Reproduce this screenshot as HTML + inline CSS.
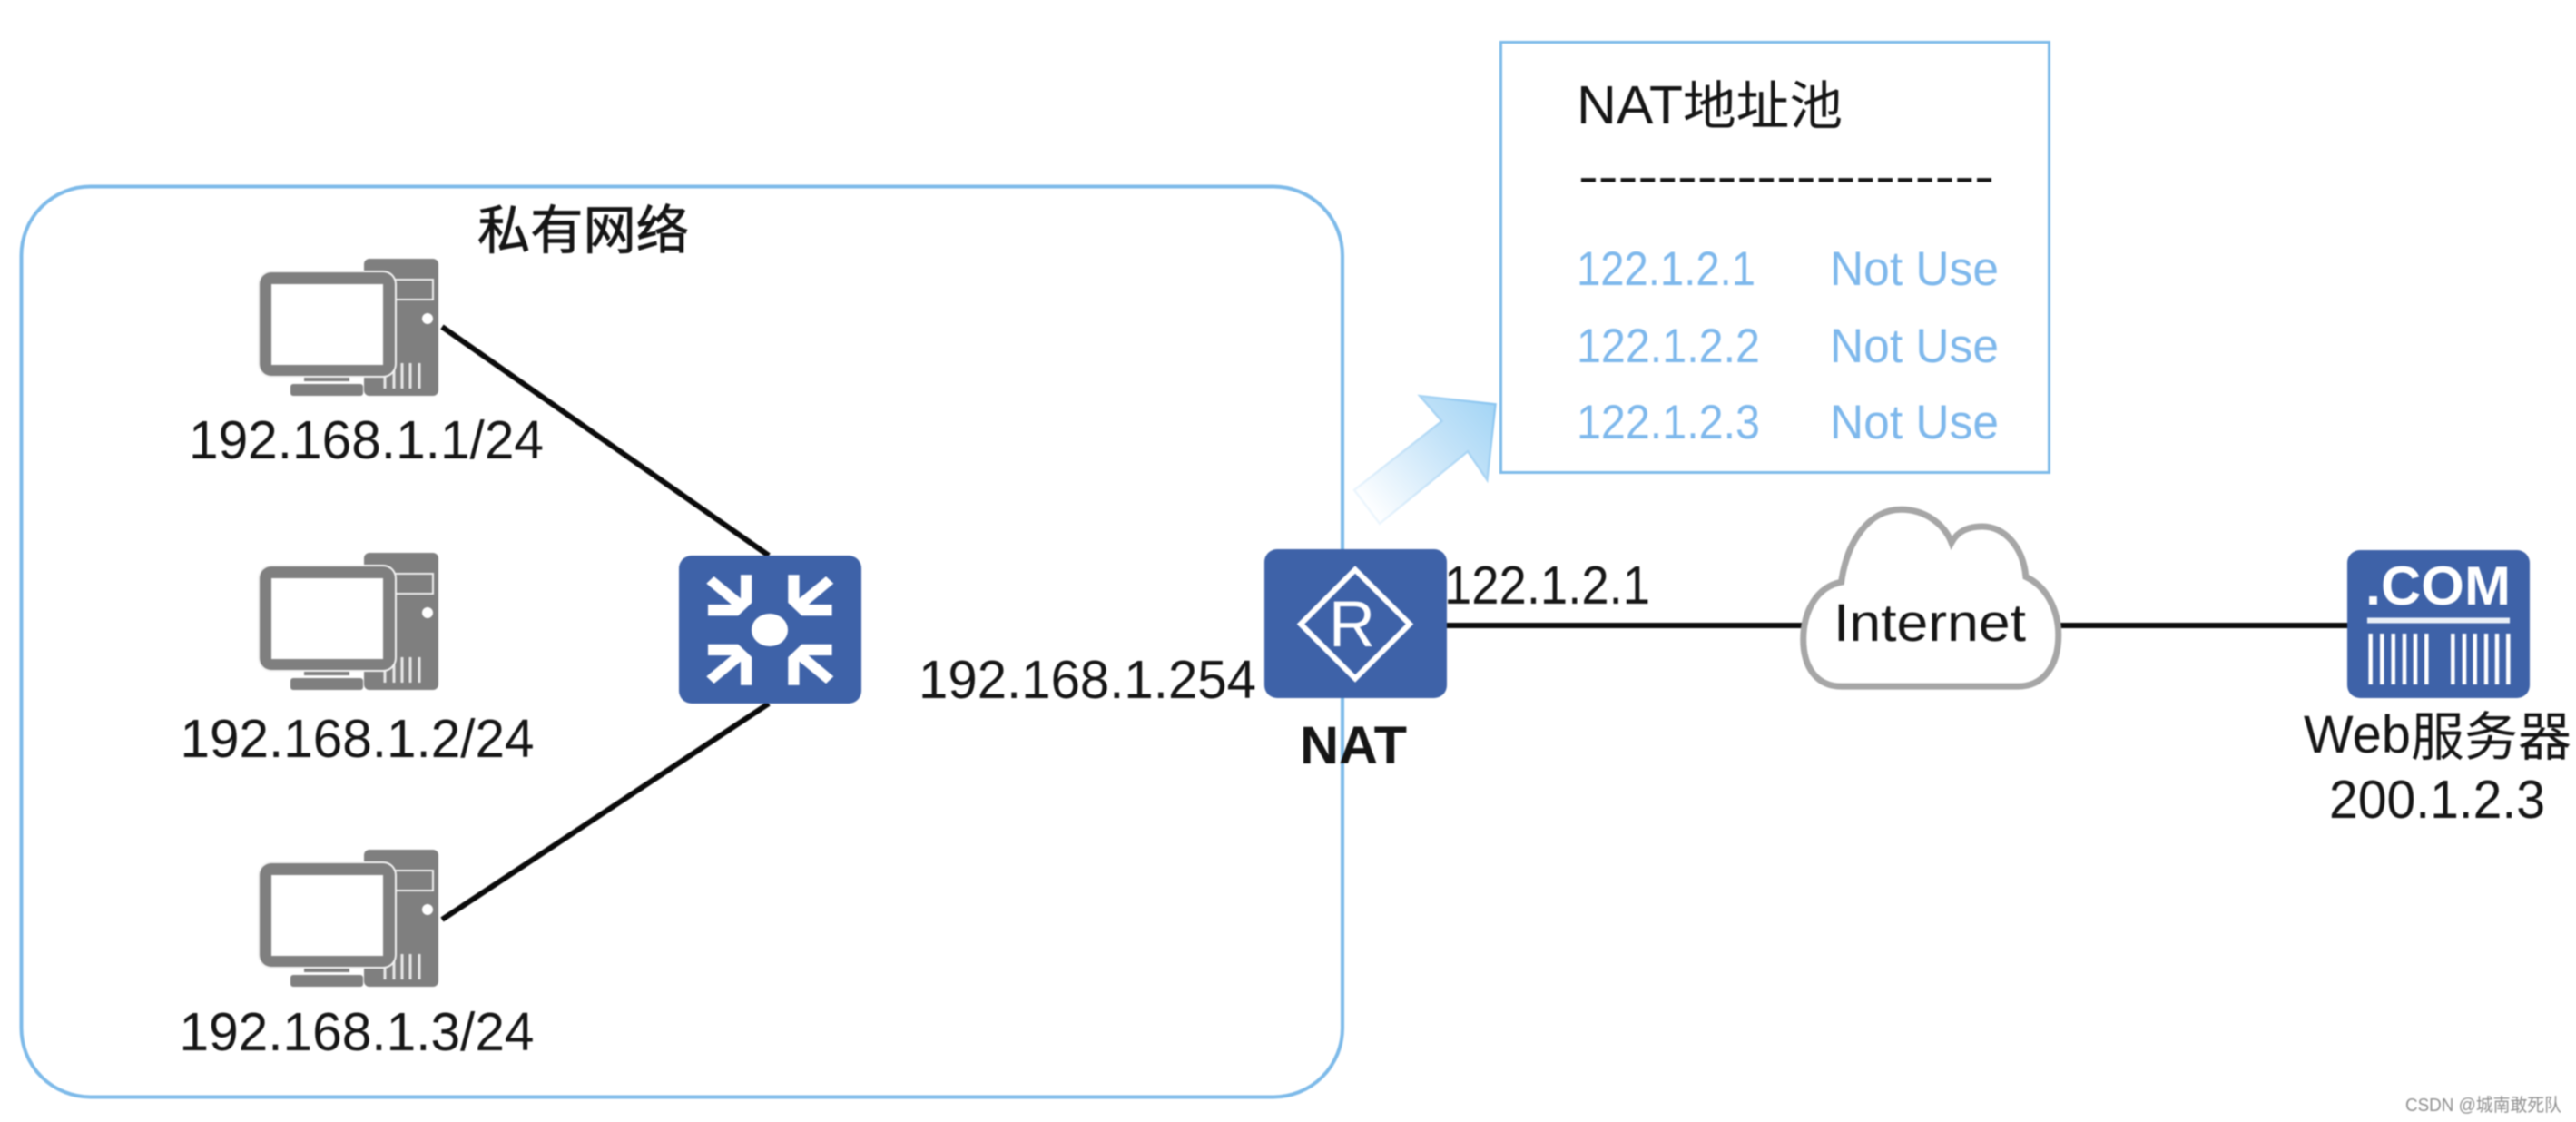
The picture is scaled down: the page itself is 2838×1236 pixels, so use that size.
<!DOCTYPE html>
<html lang="zh">
<head>
<meta charset="utf-8">
<title>NAT</title>
<style>
html,body{margin:0;padding:0;background:#fff;width:2838px;height:1236px;overflow:hidden}
svg{display:block;filter:blur(.7px)}
text{font-family:"Liberation Sans","Noto Sans CJK SC",sans-serif;fill:#151515}
.b{fill:#7EB8EC}
</style>
</head>
<body>
<svg width="2838" height="1236" viewBox="0 0 2838 1236" xmlns="http://www.w3.org/2000/svg">
<defs>
<linearGradient id="ag" gradientUnits="userSpaceOnUse" x1="1505" y1="560" x2="1640" y2="445">
<stop offset="0" stop-color="#fff"/>
<stop offset=".65" stop-color="#c2e2f8"/>
<stop offset="1" stop-color="#a6d6f5"/>
</linearGradient>
<linearGradient id="as" gradientUnits="userSpaceOnUse" x1="1505" y1="560" x2="1640" y2="445">
<stop offset="0" stop-color="#edf6fd"/>
<stop offset="1" stop-color="#8cc6f0"/>
</linearGradient>
<g id="pc">
<rect x="401" y="285" width="82" height="151" rx="6" fill="#7F7F7F"/>
<rect x="432" y="308" width="45" height="22" fill="#7F7F7F" stroke="#efefef" stroke-width="2"/>
<circle cx="471" cy="351" r="6" fill="#fff"/>
<g stroke="#e8e8e8" stroke-width="3">
<line x1="424" y1="412" x2="424" y2="428"/>
<line x1="434" y1="404" x2="434" y2="428"/>
<line x1="443" y1="400" x2="443" y2="428"/>
<line x1="452" y1="400" x2="452" y2="428"/>
<line x1="462" y1="400" x2="462" y2="428"/>
</g>
<rect x="335" y="412" width="50" height="8" fill="#7F7F7F"/>
<rect x="320" y="423" width="80" height="13" rx="3" fill="#7F7F7F"/>
<rect x="284" y="298" width="153" height="118" rx="15" fill="#f4f4f4"/>
<rect x="286" y="300" width="149" height="114" rx="13" fill="#7F7F7F"/>
<rect x="299" y="313" width="123" height="89" fill="#fff"/>
</g>
<polygon id="sa" fill="#fff" points="-32.3,-60.7 -20,-60.7 -20,-30 -35,-15.7 -68.3,-15.7 -68.3,-28 -42.3,-28 -70,-51.3 -61.7,-59 -32.3,-34.7"/>
</defs>

<rect width="2838" height="1236" fill="#fff"/>

<!-- private network -->
<rect x="23.5" y="205.5" width="1455.5" height="1003" rx="76" ry="76" fill="none" stroke="#7DBAE9" stroke-width="4"/>
<text x="526" y="274" font-size="58" textLength="233" lengthAdjust="spacingAndGlyphs" stroke="#151515" stroke-width=".8">私有网络</text>

<!-- connectors -->
<g stroke="#0a0a0a" stroke-width="6" fill="none">
<line x1="487" y1="360" x2="847" y2="612"/>
<line x1="487" y1="1013" x2="847" y2="775"/>
<line x1="1594" y1="689" x2="1985" y2="689"/>
<line x1="2269" y1="689" x2="2587" y2="689"/>
</g>

<!-- PCs -->
<use href="#pc"/>
<use href="#pc" y="324"/>
<use href="#pc" y="651"/>
<text x="208" y="505" font-size="59" textLength="391" lengthAdjust="spacingAndGlyphs">192.168.1.1/24</text>
<text x="198.5" y="834" font-size="59" textLength="390" lengthAdjust="spacingAndGlyphs">192.168.1.2/24</text>
<text x="197.5" y="1157" font-size="59" textLength="391" lengthAdjust="spacingAndGlyphs">192.168.1.3/24</text>

<!-- switch -->
<rect x="748" y="612" width="201" height="163" rx="14" fill="#3E62A8"/>
<ellipse cx="848" cy="694" rx="20" ry="18" fill="#fff"/>
<g transform="translate(848.3,694)">
<use href="#sa"/>
<use href="#sa" transform="scale(-1,1)"/>
<use href="#sa" transform="scale(1,-1)"/>
<use href="#sa" transform="scale(-1,-1)"/>
</g>

<!-- NAT router -->
<rect x="1393" y="605" width="201" height="164" rx="14" fill="#3E62A8"/>
<polygon points="1493,627.5 1553,687.5 1493,747.5 1433,687.5" fill="none" stroke="#fff" stroke-width="6"/>
<text x="1464" y="712" font-size="71" textLength="51" lengthAdjust="spacingAndGlyphs" style="fill:#fff">R</text>
<text x="1012" y="769" font-size="59" textLength="372" lengthAdjust="spacingAndGlyphs">192.168.1.254</text>
<text x="1432" y="841" font-size="58" font-weight="bold" textLength="118" lengthAdjust="spacingAndGlyphs">NAT</text>
<text x="1591" y="665" font-size="59" textLength="227" lengthAdjust="spacingAndGlyphs">122.1.2.1</text>

<!-- arrow -->
<polygon points="1564.4,436.2 1647.5,445.4 1638.4,528.7 1617,497.2 1520,576.8 1492,539.8 1588.5,464" fill="url(#ag)" stroke="url(#as)" stroke-width="2.5"/>

<!-- NAT pool -->
<rect x="1653.5" y="46.5" width="604" height="474" fill="#fff" stroke="#7DBAE9" stroke-width="3"/>
<text x="1737" y="136" font-size="59" textLength="117" lengthAdjust="spacingAndGlyphs">NAT</text>
<text x="1854" y="137" font-size="58" textLength="176" lengthAdjust="spacingAndGlyphs">地址池</text>
<text x="1739" y="213" font-size="56" textLength="458" lengthAdjust="spacingAndGlyphs">---------------------</text>
<text class="b" x="1737" y="314" font-size="53" textLength="197" lengthAdjust="spacingAndGlyphs">122.1.2.1</text>
<text class="b" x="2016" y="314" font-size="53" textLength="186" lengthAdjust="spacingAndGlyphs">Not Use</text>
<text class="b" x="1737" y="399" font-size="53" textLength="202" lengthAdjust="spacingAndGlyphs">122.1.2.2</text>
<text class="b" x="2016" y="399" font-size="53" textLength="186" lengthAdjust="spacingAndGlyphs">Not Use</text>
<text class="b" x="1737" y="483" font-size="53" textLength="202" lengthAdjust="spacingAndGlyphs">122.1.2.3</text>
<text class="b" x="2016" y="483" font-size="53" textLength="186" lengthAdjust="spacingAndGlyphs">Not Use</text>

<!-- cloud -->
<g transform="translate(1900,540) scale(.598,.4439)">
<path d="M215,487 C170,487 145,440 145,370 C145,300 170,240 215,228 C225,130 265,48 325,48 C370,48 405,85 418,130 C430,100 450,90 475,90 C515,90 550,140 555,215 C595,240 615,300 615,360 C615,440 585,487 540,487 Z" fill="#fff" stroke="#A6A6A6" stroke-width="7" vector-effect="non-scaling-stroke"/>
</g>
<text x="2020" y="706" font-size="58" textLength="212" lengthAdjust="spacingAndGlyphs">Internet</text>

<!-- server -->
<rect x="2586" y="606" width="201" height="163" rx="14" fill="#3E62A8"/>
<text x="2606" y="666" font-size="60" font-weight="bold" textLength="160" lengthAdjust="spacingAndGlyphs" style="fill:#fff">.COM</text>
<rect x="2608" y="680.5" width="157" height="6" fill="#eaf0f8"/>
<g stroke="#fff" stroke-width="4.5">
<line x1="2611.7" y1="698" x2="2611.7" y2="754"/>
<line x1="2624.3" y1="698" x2="2624.3" y2="754"/>
<line x1="2636.7" y1="698" x2="2636.7" y2="754"/>
<line x1="2649" y1="698" x2="2649" y2="754"/>
<line x1="2661" y1="698" x2="2661" y2="754"/>
<line x1="2673.3" y1="698" x2="2673.3" y2="754"/>
<line x1="2702.3" y1="698" x2="2702.3" y2="754"/>
<line x1="2715" y1="698" x2="2715" y2="754"/>
<line x1="2726.7" y1="698" x2="2726.7" y2="754"/>
<line x1="2739" y1="698" x2="2739" y2="754"/>
<line x1="2751" y1="698" x2="2751" y2="754"/>
<line x1="2763.3" y1="698" x2="2763.3" y2="754"/>
</g>
<text x="2538" y="829" font-size="58" textLength="118" lengthAdjust="spacingAndGlyphs">Web</text>
<text x="2656" y="832" font-size="58" textLength="177" lengthAdjust="spacingAndGlyphs">服务器</text>
<text x="2566" y="901" font-size="59" textLength="238" lengthAdjust="spacingAndGlyphs">200.1.2.3</text>

<!-- watermark -->
<text x="2650" y="1224" font-size="20" textLength="172" lengthAdjust="spacingAndGlyphs" style="fill:#8f8f8f">CSDN @城南敢死队</text>
</svg>
</body>
</html>
